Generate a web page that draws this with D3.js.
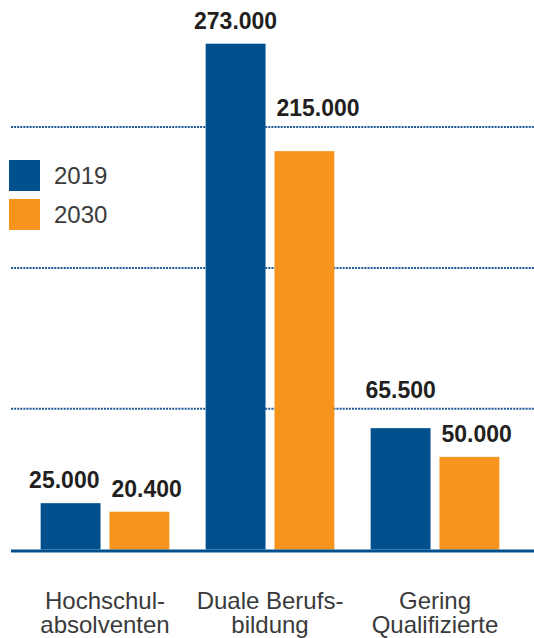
<!DOCTYPE html>
<html>
<head>
<meta charset="utf-8">
<script src="https://cdn.jsdelivr.net/npm/d3@7"></script>
<style>
  html, body { margin: 0; padding: 0; background: #fff; }
  svg { display: block; }
  .val { font-family: "Liberation Sans", Arial, sans-serif; font-weight: bold; font-size: 23px; fill: #231f20; }
  .light { font-family: "Liberation Sans", Arial, sans-serif; font-weight: normal; font-size: 24px; fill: #3a3a3a; }
</style>
</head>
<body>
<div id="chart"></div>
<script>
const categories = ["Hochschul-\nabsolventen", "Duale Berufs-\nbildung", "Gering\nQualifizierte"];
const series = ["2019", "2030"];
const values2019 = [25000, 273000, 65500];
const values2030 = [20400, 215000, 50000];
const gridValues = [76000, 152000, 228000];
const colors = ["#00508e", "#f7941d"];

const width = 534;
const height = 638;
const base = 549.5;

const fmt = (v) => d3.format(",")(v).replace(/,/g, ".");

const svg = d3.select("#chart").append("svg")
  .attr("width", width)
  .attr("height", height);

const x0 = d3.scaleBand()
  .domain(categories)
  .range([22.5, 517.5])
  .paddingInner(0.22)
  .paddingOuter(0.11);

const x1 = d3.scaleBand()
  .domain(series)
  .range([0, x0.bandwidth()])
  .paddingInner(0.13);

const y = d3.scaleLinear()
  .domain([0, 273000])
  .range([base, 43.7]);

// dotted grid lines
svg.append("g")
  .selectAll("line")
  .data(gridValues)
  .join("line")
  .attr("x1", 11)
  .attr("x2", width)
  .attr("y1", (d) => y(d))
  .attr("y2", (d) => y(d))
  .attr("stroke", "#1d5a96")
  .attr("stroke-width", 2)
  .attr("stroke-dasharray", "2,1.1");

const rows = categories.map((c, i) => ({
  cat: c,
  items: [
    { s: "2019", v: values2019[i] },
    { s: "2030", v: values2030[i] },
  ],
}));

const groups = svg.append("g")
  .selectAll("g")
  .data(rows)
  .join("g")
  .attr("transform", (d) => `translate(${x0(d.cat)},0)`);

groups.selectAll("rect")
  .data((d) => d.items)
  .join("rect")
  .attr("x", (d) => x1(d.s))
  .attr("y", (d) => y(d.v))
  .attr("width", x1.bandwidth())
  .attr("height", (d) => base - y(d.v))
  .attr("fill", (d, i) => colors[i]);

// value labels
groups.each(function (row) {
  const g = d3.select(this);
  const placed = [];
  row.items.forEach((it, i) => {
    let ly = y(it.v) - 15;
    // keep labels off the grid lines
    gridValues.forEach((gv) => {
      const gy = y(gv);
      if (gy > ly - 19 && gy < ly + 4) ly = gy - 11;
    });
    const t = g.append("text")
      .attr("class", "val")
      .attr("y", ly)
      .text(fmt(it.v));
    const w = t.node().getComputedTextLength();
    let lx;
    if (i === 0) {
      lx = x1(it.s) + x1.bandwidth() / 2 - w / 2;
    } else {
      lx = x1(it.s) + 2;
    }
    placed.push({ t, lx, ly, w });
  });
  const a = placed[0], b = placed[1];
  const vOverlap = Math.abs(a.ly - b.ly) < 20;
  if (vOverlap && a.lx + a.w > b.lx - 12) a.lx = b.lx - 12 - a.w;
  placed.forEach((p) => p.t.attr("x", p.lx));
});

// baseline
svg.append("line")
  .attr("x1", 11)
  .attr("x2", width)
  .attr("y1", base + 1.5)
  .attr("y2", base + 1.5)
  .attr("stroke", "#00508e")
  .attr("stroke-width", 3);

// category axis
const axis = svg.append("g")
  .attr("transform", `translate(0,${base})`)
  .call(d3.axisBottom(x0).tickSize(0).tickPadding(0));
axis.select(".domain").remove();
axis.selectAll("text")
  .attr("class", "light")
  .attr("font-family", null)
  .attr("font-size", null)
  .attr("fill", null)
  .attr("dy", null)
  .attr("y", 0)
  .text(null)
  .each(function (d) {
    const lines = d.split("\n");
    d3.select(this).selectAll("tspan")
      .data(lines)
      .join("tspan")
      .attr("x", 0)
      .attr("y", (l, i) => 59.5 + i * 23.5)
      .text((l) => l);
  });

// legend
const legend = svg.append("g")
  .selectAll("g")
  .data(series)
  .join("g")
  .attr("transform", (d, i) => `translate(9,${160 + i * 39})`);
legend.append("rect")
  .attr("width", 31)
  .attr("height", 31)
  .attr("fill", (d, i) => colors[i]);
legend.append("text")
  .attr("class", "light")
  .attr("x", 45)
  .attr("y", 23.5)
  .attr("font-size", "23.5px")
  .text((d) => d);
</script>
</body>
</html>
